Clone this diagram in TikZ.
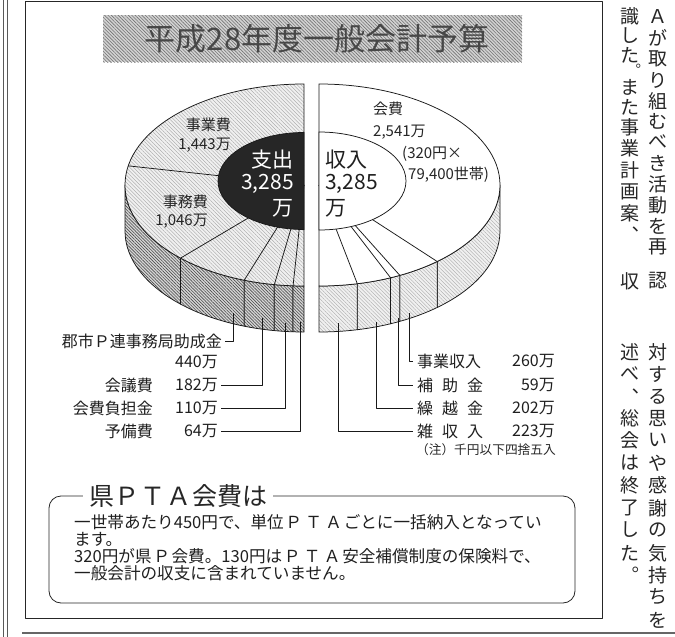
\documentclass[tikz,border=0pt]{standalone}
\usepackage{fontspec}
\newfontfamily\jp{Noto Sans CJK JP}
\usetikzlibrary{calc,patterns.meta}
\newcommand\PW[1]{\makebox[20pt]{#1}}
\newcommand\PT[1]{\makebox[26pt]{#1}}
\begin{document}
\begin{tikzpicture}[x=1pt,y=-1pt,line join=round,
  ol/.style={draw=black!90,line width=0.75pt},
  topL/.style={ol,preaction={fill=gray!12},pattern={Lines[angle=-45,distance=2.6pt,line width=0.35pt]},pattern color=gray!75},
  sideL/.style={ol,preaction={fill=gray!32},pattern={Lines[angle=-45,distance=2.2pt,line width=0.6pt]},pattern color=black!70},
  sideR/.style={ol,preaction={fill=gray!12},pattern={Lines[angle=-45,distance=2.6pt,line width=0.35pt]},pattern color=gray!70},
  titlebox/.style={preaction={fill=gray!35},pattern={Lines[angle=-45,distance=2.4pt,line width=0.6pt]},pattern color=black!55},
  lbl/.style={font=\jp\fontsize{16}{16}\selectfont,text=black!88,inner sep=0pt},
  pl/.style={font=\jp\fontsize{15}{15}\selectfont,text=black!85,inner sep=0pt},
  big/.style={font=\jp\fontsize{21}{21}\selectfont,inner sep=0pt},
  note/.style={font=\jp\fontsize{12.7}{12.7}\selectfont,text=black!85,inner sep=0pt},
  body/.style={font=\jp\fontsize{16.6}{16.6}\selectfont,text=black!88,inner sep=0pt},
  vt/.style={font=\jp\fontsize{19}{19}\selectfont,text=black!85,inner sep=0pt},
  vp/.style={font=\jp\fontsize{14}{14}\selectfont,text=black!85,inner sep=0pt},
  ld/.style={line width=0.75pt,draw=black!90}]
\useasboundingbox (0,0) rectangle (675,637);
% page rules and frame
\draw[line width=0.9pt,black!65] (3.5,0) -- (3.5,637);
\draw[line width=0.9pt,black!65] (7.5,0) -- (7.5,637);
\draw[line width=1.2pt,black!60] (22,633) -- (675,633);
\draw[line width=1pt,black!85] (25,1.5) rectangle (602,618);
% title
\path[titlebox] (103,15) rectangle (522,62);
\node[font=\jp\fontsize{31}{31}\selectfont,text=black!72,inner sep=0pt] (title) at (317,39) {平成28年度一般会計予算};
% ---------- left pie (expenditure) ----------
\coordinate (CL) at (304,185);
\foreach \a/\b in {-180/-226.38,-226.38/-250.49,-250.49/-260.46,-260.46/-266.49,-266.49/-270}{
  \draw[sideL] ($(CL)+(\a:179 and 101)$) arc[start angle=\a,end angle=\b,x radius=179,y radius=101]
    -- ++(0,46) arc[start angle=\b,end angle=\a,x radius=179,y radius=101] -- cycle;
}
\draw[topL] (304,84) arc[start angle=-90,end angle=-270,x radius=179,y radius=101] -- cycle;
\foreach \t in {-169.07,-226.38,-250.49,-260.46,-266.49}{
  \draw[ol] (CL) -- ($(CL)+(\t:179 and 101)$);
}
\draw[ol,fill=black!85] (304,132.5) arc[start angle=-90,end angle=-270,x radius=86,y radius=48.5] -- cycle;
% ---------- right pie (income) ----------
\coordinate (CR) at (319,185);
\foreach \a/\b in {0/49.23,49.23/63.48,63.48/66.71,66.71/77.78,77.78/90}{
  \draw[sideR] ($(CR)+(\a:181 and 101)$) arc[start angle=\a,end angle=\b,x radius=181,y radius=101]
    -- ++(0,46) arc[start angle=\b,end angle=\a,x radius=181,y radius=101] -- cycle;
}
\draw[ol,fill=white] (319,84) arc[start angle=-90,end angle=90,x radius=181,y radius=101] -- cycle;
\foreach \t in {49.23,63.48,66.71,77.78}{
  \draw[ol] (CR) -- ($(CR)+(\t:181 and 101)$);
}
\draw[ol,fill=white] (319,132) arc[start angle=-90,end angle=90,x radius=87,y radius=49] -- cycle;
% pie labels
\node[pl,anchor=east] (lj1) at (231,125) {事業費};
\node[pl,anchor=east] (lj2) at (231,145) {1,443万};
\node[pl,anchor=east] (lm1) at (208,202) {事務費};
\node[pl,anchor=east] (lm2) at (208,221) {1,046万};
\node[pl,anchor=west] (rk1) at (373,109) {会費};
\node[pl,anchor=west] (rk2) at (373,132) {2,541万};
\node[pl,anchor=west] (rk3) at (402,154) {(320円×};
\node[pl,anchor=west] (rk4) at (408,175) {79,400世帯)};
\node[big,text=white,anchor=east] (so1) at (294,160) {支出};
\node[big,text=white,anchor=east] (so2) at (294,184) {3,285};
\node[big,text=white,anchor=east] (so3) at (294,208) {万};
\node[big,text=black!88,anchor=west] (si1) at (325,160) {収入};
\node[big,text=black!88,anchor=west] (si2) at (325,184) {3,285};
\node[big,text=black!88,anchor=west] (si3) at (325,208) {万};
% left leader labels
\coordinate (la1) at (233,313);
\coordinate (la2) at (262,318);
\coordinate (la3) at (285,323);
\coordinate (la4) at (300,322);
\node[lbl,anchor=east,inner xsep=3pt] (ln1) at (225,341) {郡市Ｐ連事務局助成金};
\node[lbl,anchor=east] (lv1) at (218,362) {440万};
\node[lbl,anchor=east] (ln2) at (153,385) {会議費};
\node[lbl,anchor=east,inner xsep=3pt] (lv2) at (221,385) {182万};
\node[lbl,anchor=east] (ln3) at (153,408) {会費負担金};
\node[lbl,anchor=east,inner xsep=3pt] (lv3) at (221,408) {110万};
\node[lbl,anchor=east] (ln4) at (153,431) {予備費};
\node[lbl,anchor=east,inner xsep=3pt] (lv4) at (221,431) {64万};
\draw[ld] (la1) |- (ln1.east);
\draw[ld] (la2) |- (lv2.east);
\draw[ld] (la3) |- (lv3.east);
\draw[ld] (la4) |- (lv4.east);
% right leader labels
\coordinate (ra1) at (409,313);
\coordinate (ra2) at (398,318);
\coordinate (ra3) at (376,322);
\coordinate (ra4) at (338,323);
\node[lbl,anchor=west,inner xsep=4pt] (rn1) at (413,361) {\makebox[66pt][s]{事業収入}};
\node[lbl,anchor=west,inner xsep=4pt] (rn2) at (413,385) {\makebox[66pt][s]{補\hfill 助\hfill 金}};
\node[lbl,anchor=west,inner xsep=4pt] (rn3) at (413,408) {\makebox[66pt][s]{繰\hfill 越\hfill 金}};
\node[lbl,anchor=west,inner xsep=4pt] (rn4) at (413,431) {\makebox[66pt][s]{雑\hfill 収\hfill 入}};
\node[lbl,anchor=east] (rv1) at (555,361) {260万};
\node[lbl,anchor=east] (rv2) at (555,385) {59万};
\node[lbl,anchor=east] (rv3) at (555,408) {202万};
\node[lbl,anchor=east] (rv4) at (555,431) {223万};
\node[note,anchor=east] (nt) at (556,450) {（注）千円以下四捨五入};
\draw[ld] (ra1) |- (rn1.west);
\draw[ld] (ra2) |- (rn2.west);
\draw[ld] (ra3) |- (rn3.west);
\draw[ld] (ra4) |- (rn4.west);
% PTA box
\draw[line width=0.8pt,black!85,rounded corners=12pt] (49,496) rectangle (575,603);
\node[font=\jp\fontsize{25}{25}\selectfont,text=black!85,fill=white,inner xsep=6pt,inner ysep=1pt,anchor=west] (pt) at (83,496) {県\PT{Ｐ}\PT{Ｔ}\PT{Ａ}会費は};
\node[body,anchor=west] (b1) at (74,522) {一世帯あたり450円で、単位\PW{Ｐ}\PW{Ｔ}\PW{Ａ}ごとに一括納入となってい};
\node[body,anchor=west] (b2) at (74,539) {ます。};
\node[body,anchor=west] (b3) at (74,556) {320円が県\PW{Ｐ}会費。130円は\PW{Ｐ}\PW{Ｔ}\PW{Ａ}安全補償制度の保険料で、};
\node[body,anchor=west] (b4) at (74,573) {一般会計の収支に含まれていません。};
% vertical article text
\foreach \c/\y [count=\i] in {Ａ/17,が/38,取/59,り/80,組/101,む/121,べ/142,き/163,活/184,動/205,を/226,再/247,認/281}
  \node[vt] (ta\i) at (658,\y) {\c};
\foreach \c/\y [count=\i] in {識/16,し/36,た/55,ま/87,た/107,事/127,業/148,計/170,画/192,案/213,収/281}
  \node[vt] (tb\i) at (630,\y) {\c};
\node[vp] (tbp1) at (634,70) {︒};
\node[vt] (tbp2) at (630,235) {︑};
\foreach \c/\y [count=\i] in {対/352,す/374,る/397,思/418,い/440,や/463,感/485,謝/508,の/530,気/553,持/575,ち/597,を/620}
  \node[vt] (tc\i) at (658,\y) {\c};
\foreach \c/\y [count=\i] in {述/352,べ/374,︑/397,総/418,会/440,は/463,終/485,了/508,し/530,た/553,︒/575}
  \node[vt] (td\i) at (630,\y) {\c};
\end{tikzpicture}
\end{document}
